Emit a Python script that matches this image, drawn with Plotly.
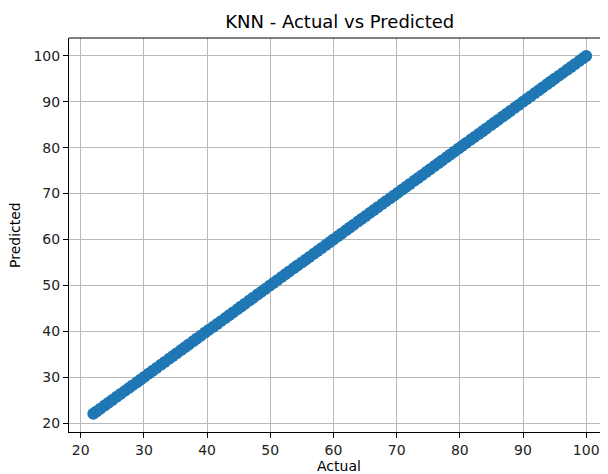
import plotly.graph_objects as go

actual = [22.0, 22.5, 23.1, 23.8, 24.4, 25.0, 25.7, 26.3, 27.0, 27.6, 28.2, 28.9, 29.5, 30.1, 30.8,
          31.4, 32.0, 32.7, 33.3, 34.0, 34.6, 35.2, 35.9, 36.5, 37.1, 37.8, 38.4, 39.0, 39.7, 40.3,
          41.0, 41.6, 42.2, 42.9, 43.5, 44.1, 44.8, 45.4, 46.0, 46.7, 47.3, 48.0, 48.6, 49.2, 49.9,
          50.5, 51.1, 51.8, 52.4, 53.0, 53.7, 54.3, 55.0, 55.6, 56.2, 56.9, 57.5, 58.1, 58.8, 59.4,
          60.0, 60.7, 61.3, 62.0, 62.6, 63.2, 63.9, 64.5, 65.1, 65.8, 66.4, 67.0, 67.7, 68.3, 69.0,
          69.6, 70.2, 70.9, 71.5, 72.1, 72.8, 73.4, 74.0, 74.7, 75.3, 76.0, 76.6, 77.2, 77.9, 78.5,
          79.1, 79.8, 80.4, 81.0, 81.7, 82.3, 83.0, 83.6, 84.2, 84.9, 85.5, 86.1, 86.8, 87.4, 88.0,
          88.7, 89.3, 90.0, 90.6, 91.2, 91.9, 92.5, 93.1, 93.8, 94.4, 95.0, 95.7, 96.3, 97.0, 97.6,
          98.2, 98.9, 99.5, 100.0]
predicted = [22.0, 22.5, 23.1, 23.8, 24.4, 25.0, 25.7, 26.3, 27.0, 27.6, 28.2, 28.9, 29.5, 30.1, 30.8,
             31.4, 32.0, 32.7, 33.3, 34.0, 34.6, 35.2, 35.9, 36.5, 37.1, 37.8, 38.4, 39.0, 39.7, 40.3,
             41.0, 41.6, 42.2, 42.9, 43.5, 44.1, 44.8, 45.4, 46.0, 46.7, 47.3, 48.0, 48.6, 49.2, 49.9,
             50.5, 51.1, 51.8, 52.4, 53.0, 53.7, 54.3, 55.0, 55.6, 56.2, 56.9, 57.5, 58.1, 58.8, 59.4,
             60.0, 60.7, 61.3, 62.0, 62.6, 63.2, 63.9, 64.5, 65.1, 65.8, 66.4, 67.0, 67.7, 68.3, 69.0,
             69.6, 70.2, 70.9, 71.5, 72.1, 72.8, 73.4, 74.0, 74.7, 75.3, 76.0, 76.6, 77.2, 77.9, 78.5,
             79.1, 79.8, 80.4, 81.0, 81.7, 82.3, 83.0, 83.6, 84.2, 84.9, 85.5, 86.1, 86.8, 87.4, 88.0,
             88.7, 89.3, 90.0, 90.6, 91.2, 91.9, 92.5, 93.1, 93.8, 94.4, 95.0, 95.7, 96.3, 97.0, 97.6,
             98.2, 98.9, 99.5, 100.0]
tick_vals = [20, 30, 40, 50, 60, 70, 80, 90, 100]

FONT = "DejaVu Sans"
# page body has an 8px default margin; figure is sized to fill the rest
W, H = 600, 466

fig = go.Figure()
fig.add_trace(go.Scatter(
    x=actual, y=predicted, mode="markers",
    marker=dict(color="#1f77b4", size=12, line=dict(width=0)),
    cliponaxis=False, showlegend=False,
))

axis_common = dict(
    showgrid=True, gridcolor="#b8b8b8", gridwidth=1,
    showline=True, linecolor="black", linewidth=1,
    ticks="outside", ticklen=5, tickwidth=1, tickcolor="black",
    tickfont=dict(family=FONT, size=14, color="#222222"),
    zeroline=False, tickvals=tick_vals, automargin=False,
)

fig.update_layout(
    width=W, height=H,
    margin=dict(l=61, r=0, t=30, b=42, autoexpand=False),
    plot_bgcolor="white", paper_bgcolor="white",
    font=dict(family=FONT, color="black"),
    xaxis=dict(range=[18.15, 103.45], **axis_common),
    yaxis=dict(range=[18.04, 103.9], **axis_common),
    title=dict(text="KNN - Actual vs Predicted", x=0.553, xanchor="center",
               y=1 - 14 / H, yref="container", yanchor="middle", automargin=False,
               font=dict(family=FONT, size=18, color="black")),
    shapes=[dict(type="line", xref="paper", yref="paper", x0=0, x1=1, y0=1, y1=1,
                 line=dict(color="black", width=1))],
    annotations=[
        dict(text="Actual", xref="paper", yref="paper", x=0.5, y=0, yshift=-34,
             xanchor="center", yanchor="middle", showarrow=False,
             font=dict(family=FONT, size=14, color="black")),
        dict(text="Predicted", xref="paper", yref="paper", x=0, y=0.5, xshift=-54,
             xanchor="center", yanchor="middle", showarrow=False, textangle=-90,
             font=dict(family=FONT, size=14, color="black")),
    ],
)

fig.write_html("out.html")
